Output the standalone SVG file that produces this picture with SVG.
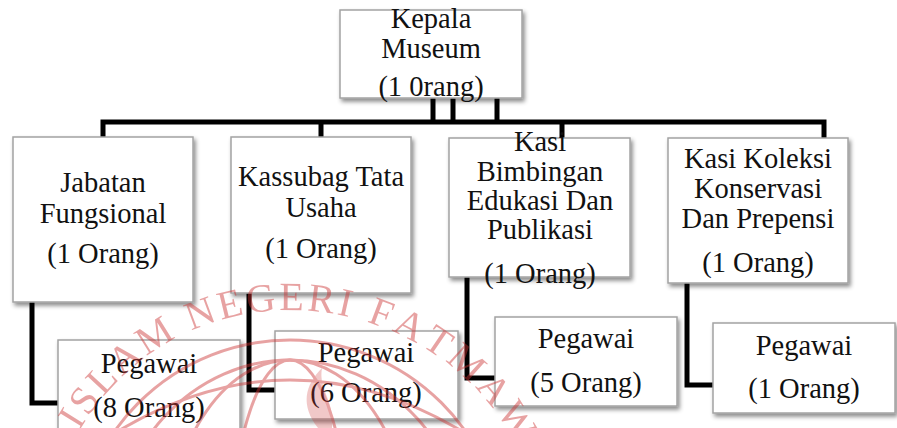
<svg xmlns="http://www.w3.org/2000/svg" width="897" height="428" viewBox="0 0 897 428">
<defs>
<filter id="sh" x="-10%" y="-10%" width="125%" height="130%">
<feDropShadow dx="2" dy="3" stdDeviation="2" flood-color="#000" flood-opacity="0.45"/>
</filter>
</defs>
<style>
.box{fill:#fff;stroke:#a3a3a3;stroke-width:1.5;filter:url(#sh)}
.t{font-family:"Liberation Serif","Times New Roman",serif;font-size:28.5px;fill:#111;text-anchor:middle}
.ln{fill:none;stroke:#000;stroke-width:5;stroke-linejoin:miter}
.wm{font-family:"Liberation Serif","Times New Roman",serif;font-size:40px;fill:#cc3333;text-anchor:middle}
.gl{fill:none;stroke:#cc3333;stroke-width:3}
</style>
<rect width="897" height="428" fill="#fff"/>

<g id="connectors">
<path class="ln" d="M433,98 V122 M453,98 V122 M497,98 V122"/>
<path class="ln" d="M103,138 V122 H824 V139"/>
<path class="ln" d="M321,122 V138 M562,122 V139"/>
<path class="ln" d="M32,300 V403 H59"/>
<path class="ln" d="M249,292 V390 H276"/>
<path class="ln" d="M467,276 V378 H496"/>
<path class="ln" d="M687,282 V385 H714"/>
</g>

<g id="kepala">
<rect class="box" x="340" y="10" width="182" height="88"/>
<text class="t" x="431" y="28">Kepala</text>
<text class="t" x="431" y="58">Museum</text>
<text class="t" x="431" y="96">(1 0rang)</text>
</g>

<g id="jabatan">
<rect class="box" x="13" y="137" width="180" height="165"/>
<text class="t" x="103" y="192">Jabatan</text>
<text class="t" x="103" y="223">Fungsional</text>
<text class="t" x="103" y="263">(1 Orang)</text>
</g>

<g id="kassubag">
<rect class="box" x="231" y="137" width="180" height="156"/>
<text class="t" x="321" y="186">Kassubag Tata</text>
<text class="t" x="321" y="217">Usaha</text>
<text class="t" x="321" y="258">(1 Orang)</text>
</g>

<g id="kasi-bimbingan">
<rect class="box" x="449" y="138" width="181" height="139"/>
<text class="t" x="540" y="151">Kasi</text>
<text class="t" x="540" y="181">Bimbingan</text>
<text class="t" x="540" y="210">Edukasi Dan</text>
<text class="t" x="540" y="239">Publikasi</text>
<text class="t" x="540" y="283">(1 Orang)</text>
</g>

<g id="kasi-koleksi">
<rect class="box" x="668" y="138" width="180" height="145"/>
<text class="t" x="758" y="168">Kasi Koleksi</text>
<text class="t" x="758" y="198">Konservasi</text>
<text class="t" x="758" y="228">Dan Prepensi</text>
<text class="t" x="758" y="272">(1 Orang)</text>
</g>

<g id="pegawai-1">
<rect class="box" x="58" y="340" width="182" height="100"/>
<text class="t" x="149" y="373">Pegawai</text>
<text class="t" x="149" y="417">(8 Orang)</text>
</g>

<g id="pegawai-2">
<rect class="box" x="275" y="331" width="183" height="88"/>
<text class="t" x="366" y="362">Pegawai</text>
<text class="t" x="366" y="402">(6 Orang)</text>
</g>

<g id="pegawai-3">
<rect class="box" x="495" y="317" width="182" height="89"/>
<text class="t" x="586" y="348">Pegawai</text>
<text class="t" x="586" y="392">(5 Orang)</text>
</g>

<g id="pegawai-4">
<rect class="box" x="713" y="323" width="182" height="90"/>
<text class="t" x="804" y="355">Pegawai</text>
<text class="t" x="804" y="398">(1 Orang)</text>
</g>

<g id="watermark" opacity="0.45">
<circle class="gl" cx="290" cy="554" r="214"/>
<ellipse class="gl" cx="290" cy="560" rx="60" ry="200" stroke-width="2"/>
<ellipse class="gl" cx="290" cy="560" rx="125" ry="200" stroke-width="2"/>
<ellipse class="gl" cx="290" cy="560" rx="180" ry="200" stroke-width="2"/>
<path class="gl" d="M120,430 Q290,330 460,430" stroke-width="2"/>
<path d="M318,428 C300,405 305,385 322,368 C318,390 335,400 332,428 Z" fill="#cc3333" opacity="0.6"/>
<text class="wm" transform="translate(82.8,425.2) rotate(-58.1)">I</text>
<text class="wm" transform="translate(94.4,408.1) rotate(-53.3)">S</text>
<text class="wm" transform="translate(111.3,387.9) rotate(-47.1)">L</text>
<text class="wm" transform="translate(132.8,367.4) rotate(-40.1)">A</text>
<text class="wm" transform="translate(161.2,346.7) rotate(-31.9)">M</text>
<text class="wm" transform="translate(204.5,325.5) rotate(-20.5)">N</text>
<text class="wm" transform="translate(232.8,316.8) rotate(-13.6)">E</text>
<text class="wm" transform="translate(262,311.6) rotate(-6.6)">G</text>
<text class="wm" transform="translate(291.5,310) rotate(0.4)">E</text>
<text class="wm" transform="translate(320.1,311.9) rotate(7.1)">R</text>
<text class="wm" transform="translate(342.7,315.8) rotate(12.5)">I</text>
<text class="wm" transform="translate(377,325.3) rotate(20.4)">F</text>
<text class="wm" transform="translate(404,336.8) rotate(27.1)">A</text>
<text class="wm" transform="translate(431,352) rotate(34.1)">T</text>
<text class="wm" transform="translate(458,372) rotate(41.8)">M</text>
<text class="wm" transform="translate(484,397.5) rotate(50.1)">A</text>
<text class="wm" transform="translate(506,427) rotate(58.6)">W</text>
</g>
</svg>
